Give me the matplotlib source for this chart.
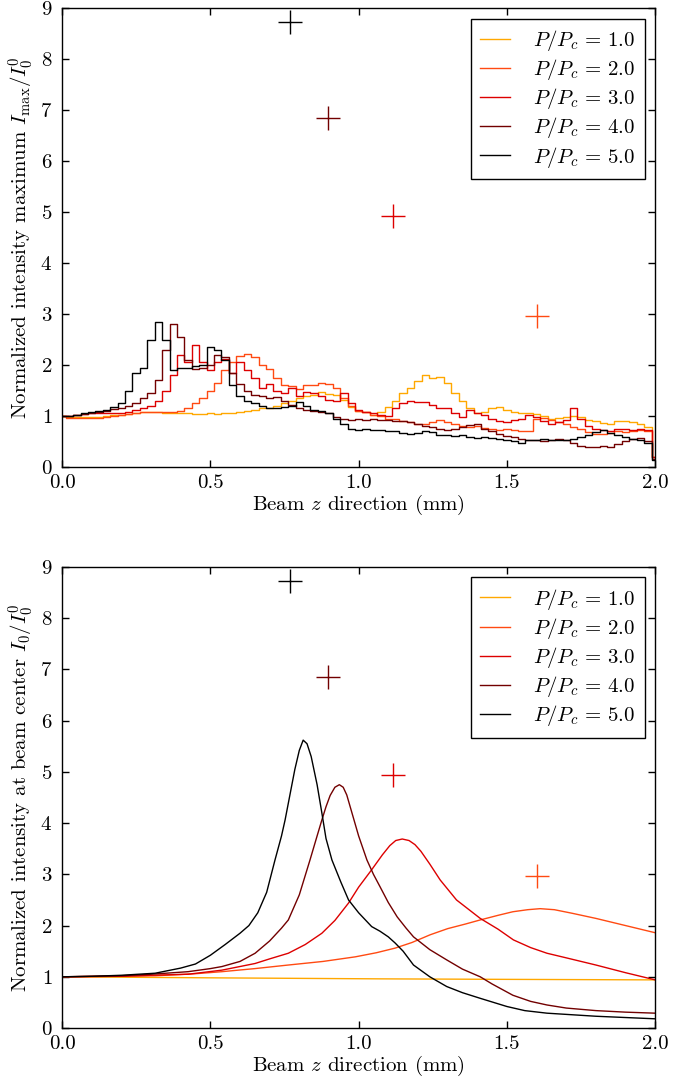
import numpy as np
import matplotlib
matplotlib.use('Agg')
import matplotlib.pyplot as plt

plt.rcParams['font.family'] = 'serif'
plt.rcParams['font.serif'] = ['cmr10']
plt.rcParams['mathtext.fontset'] = 'cm'
plt.rcParams['axes.formatter.use_mathtext'] = True
plt.rcParams['font.size'] = 15

# power ratios and colours
powers = [1.0, 2.0, 3.0, 4.0, 5.0]
colors = ['#ffa800', '#ff4a12', '#dd0000', '#720000', '#000000']

# collapse points (z in mm, predicted intensity), P/Pc = 2..5
coll_z = [1.60, 1.116, 0.897, 0.769]
coll_i = [2.97, 4.93, 6.85, 8.72]
coll_col = ['#ff4a12', '#dd0000', '#720000', '#000000']

# ---- top panel: intensity maximum, sampled every 0.025 mm ----
z_top = np.linspace(0.0, 2.0, 81)

imax1 = [1.00, 0.99, 0.98, 0.98, 0.98, 0.99, 1.00, 1.01, 1.02, 1.04,
         1.06, 1.07, 1.08, 1.07, 1.06, 1.06, 1.05, 1.05, 1.04, 1.04,
         1.05, 1.04, 1.05, 1.05, 1.08, 1.10, 1.12, 1.15, 1.16, 1.20,
         1.26, 1.30, 1.35, 1.40, 1.42, 1.47, 1.43, 1.42, 1.32, 1.18,
         1.10, 1.08, 1.02, 1.08, 1.18, 1.30, 1.45, 1.55, 1.68, 1.80,
         1.74, 1.76, 1.65, 1.45, 1.30, 1.15, 1.05, 1.08, 1.15, 1.18,
         1.12, 1.08, 1.05, 1.05, 1.03, 1.00, 0.95, 0.97, 0.98, 1.00,
         0.98, 0.93, 0.90, 0.87, 0.85, 0.90, 0.90, 0.88, 0.85, 0.78,
         0.20]

imax2 = [1.00, 0.97, 0.96, 0.97, 0.96, 0.97, 0.98, 1.00, 1.02, 1.04,
         1.06, 1.08, 1.08, 1.07, 1.08, 1.07, 1.10, 1.15, 1.25, 1.35,
         1.50, 1.65, 1.90, 2.05, 2.17, 2.22, 2.15, 2.00, 1.92, 1.75,
         1.60, 1.58, 1.52, 1.60, 1.60, 1.65, 1.62, 1.55, 1.35, 1.20,
         1.10, 1.08, 1.02, 1.00, 0.95, 0.95, 0.90, 0.88, 0.85, 0.85,
         0.88, 0.92, 0.88, 0.85, 0.80, 0.78, 0.80, 0.77, 0.75, 0.72,
         0.75, 0.72, 0.70, 0.70, 0.95, 0.97, 0.92, 0.88, 0.85, 0.78,
         0.75, 0.68, 0.65, 0.65, 0.66, 0.70, 0.68, 0.70, 0.72, 0.70,
         0.20]

imax3 = [1.00, 1.00, 1.02, 1.03, 1.05, 1.05, 1.06, 1.05, 1.05, 1.08,
         1.12, 1.15, 1.20, 1.30, 1.50, 1.80, 2.20, 2.05, 2.40, 2.05,
         1.90, 2.05, 2.12, 1.85, 2.05, 1.90, 1.75, 1.55, 1.62, 1.50,
         1.45, 1.55, 1.40, 1.48, 1.45, 1.40, 1.32, 1.30, 1.45, 1.25,
         1.12, 1.08, 1.05, 1.02, 1.00, 1.15, 1.25, 1.30, 1.28, 1.28,
         1.22, 1.15, 1.15, 1.05, 0.98, 1.12, 1.05, 1.02, 0.95, 0.90,
         0.88, 0.92, 0.95, 1.02, 0.98, 0.90, 0.85, 0.88, 0.92, 1.15,
         0.95, 0.80, 0.75, 0.72, 0.70, 0.75, 0.74, 0.72, 0.75, 0.72,
         0.20]

imax4 = [1.00, 1.00, 1.02, 1.03, 1.05, 1.07, 1.10, 1.13, 1.15, 1.20,
         1.25, 1.35, 1.45, 1.70, 2.30, 2.80, 2.55, 2.10, 1.92, 1.95,
         2.00, 2.20, 2.15, 1.85, 1.62, 1.50, 1.42, 1.40, 1.35, 1.38,
         1.30, 1.22, 1.15, 1.12, 1.10, 1.08, 1.05, 0.98, 0.95, 0.93,
         0.95, 0.92, 0.95, 0.93, 0.92, 0.90, 0.90, 0.88, 0.85, 0.80,
         0.78, 0.75, 0.72, 0.75, 0.78, 0.82, 0.85, 0.75, 0.70, 0.65,
         0.60, 0.58, 0.55, 0.52, 0.52, 0.50, 0.52, 0.55, 0.52, 0.48,
         0.42, 0.40, 0.40, 0.42, 0.40, 0.45, 0.50, 0.55, 0.56, 0.50,
         0.15]

imax5 = [1.00, 1.00, 1.02, 1.05, 1.07, 1.10, 1.12, 1.17, 1.25, 1.50,
         1.85, 1.95, 2.50, 2.85, 2.50, 1.90, 1.95, 1.95, 1.98, 2.00,
         2.35, 2.30, 2.10, 1.60, 1.40, 1.30, 1.25, 1.20, 1.15, 1.15,
         1.18, 1.20, 1.28, 1.20, 1.12, 1.10, 1.05, 0.95, 0.85, 0.75,
         0.73, 0.75, 0.72, 0.72, 0.70, 0.70, 0.66, 0.65, 0.66, 0.70,
         0.68, 0.63, 0.62, 0.60, 0.62, 0.58, 0.56, 0.58, 0.56, 0.55,
         0.52, 0.50, 0.48, 0.52, 0.52, 0.55, 0.53, 0.52, 0.52, 0.55,
         0.58, 0.62, 0.68, 0.72, 0.66, 0.62, 0.58, 0.55, 0.52, 0.48,
         0.13]

# ---- bottom panel: intensity at beam centre ----
zc1 = [0, 0.5, 1.07, 1.5, 2.0]
ic1 = [1.0, 0.98, 0.96, 0.95, 0.94]

zc2 = [0, 0.314, 0.45, 0.539, 0.65, 0.763, 0.88, 0.989, 1.06, 1.123, 1.18, 1.241, 1.3,
       1.36, 1.41, 1.47, 1.52, 1.57, 1.612, 1.66, 1.72, 1.8, 1.9, 2.0]
ic2 = [1.0, 1.02, 1.06, 1.1, 1.16, 1.23, 1.3, 1.39, 1.47, 1.56, 1.67, 1.82, 1.94,
       2.03, 2.11, 2.2, 2.27, 2.31, 2.33, 2.31, 2.24, 2.14, 2.0, 1.86]

zc3 = [0, 0.2, 0.3, 0.425, 0.539, 0.651, 0.7, 0.763, 0.82, 0.876, 0.92, 0.966, 1.0,
       1.044, 1.08, 1.105, 1.125, 1.147, 1.17, 1.19, 1.21, 1.24, 1.275, 1.33, 1.41,
       1.47, 1.522, 1.58, 1.635, 1.7, 1.8, 1.9, 2.0]
ic3 = [1.0, 1.01, 1.03, 1.05, 1.13, 1.26, 1.35, 1.46, 1.63, 1.85, 2.1, 2.44, 2.75,
       3.09, 3.38, 3.56, 3.66, 3.69, 3.66, 3.58, 3.45, 3.2, 2.89, 2.5, 2.14,
       1.93, 1.72, 1.57, 1.46, 1.37, 1.23, 1.08, 0.94]

zc4 = [0, 0.2, 0.3, 0.425, 0.5, 0.539, 0.6, 0.651, 0.7, 0.74, 0.763, 0.8, 0.836, 0.86,
       0.876, 0.89, 0.904, 0.92, 0.935, 0.948, 0.96, 0.975, 1.0, 1.028, 1.05, 1.072,
       1.1, 1.13, 1.16, 1.185, 1.24, 1.297, 1.35, 1.41, 1.45, 1.52, 1.58, 1.635, 1.7,
       1.8, 1.9, 2.0]
ic4 = [1.0, 1.02, 1.05, 1.1, 1.16, 1.2, 1.3, 1.46, 1.7, 1.95, 2.11, 2.6, 3.28, 3.75,
       4.06, 4.32, 4.54, 4.7, 4.75, 4.7, 4.55, 4.25, 3.75, 3.28, 3.0, 2.76,
       2.45, 2.17, 1.95, 1.78, 1.53, 1.33, 1.15, 1.0, 0.86, 0.64, 0.52, 0.45, 0.39,
       0.34, 0.31, 0.29]

zc5 = [0, 0.1, 0.2, 0.314, 0.4, 0.45, 0.5, 0.55, 0.6, 0.63, 0.66, 0.69, 0.718, 0.74,
       0.752, 0.77, 0.785, 0.8, 0.813, 0.826, 0.84, 0.86, 0.876, 0.89, 0.91, 0.94,
       0.966, 1.0, 1.044, 1.072, 1.1, 1.123, 1.15, 1.185, 1.24, 1.297, 1.35, 1.41,
       1.5, 1.56, 1.635, 1.8, 2.0]
ic5 = [1.0, 1.01, 1.03, 1.07, 1.17, 1.25, 1.42, 1.63, 1.85, 2.0, 2.25, 2.65, 3.28, 3.75,
       4.06, 4.6, 5.05, 5.42, 5.62, 5.55, 5.3, 4.75, 4.2, 3.7, 3.28, 2.85,
       2.5, 2.25, 1.98, 1.89, 1.78, 1.66, 1.5, 1.23, 1.0, 0.81, 0.69, 0.58,
       0.42, 0.34, 0.29, 0.23, 0.18]

top_i = [imax1, imax2, imax3, imax4, imax5]
bot_z = [zc1, zc2, zc3, zc4, zc5]
bot_i = [ic1, ic2, ic3, ic4, ic5]

fig = plt.figure(figsize=(6.93, 10.81), dpi=100)
ax1 = fig.add_axes([0.0895, 0.568, 0.856, 0.4245])
ax2 = fig.add_axes([0.0895, 0.049, 0.856, 0.4265])


def style(ax, ylabel):
    ax.set_xlim(0, 2.0)
    ax.set_ylim(0, 9)
    ax.set_xticks([0.0, 0.5, 1.0, 1.5, 2.0])
    ax.set_xticklabels(['0.0', '0.5', '1.0', '1.5', '2.0'])
    ax.set_yticks(range(10))
    ax.tick_params(direction='in', top=True, right=True, length=5, width=1)
    ax.tick_params(axis='x', pad=5)
    ax.tick_params(axis='y', pad=7)
    for s in ax.spines.values():
        s.set_linewidth(1.0)
    ax.set_xlabel('Beam $z$ direction (mm)', labelpad=1)
    ax.set_ylabel(ylabel, labelpad=3)
    ax.legend(loc='upper right', fancybox=False, edgecolor='black', framealpha=1,
              handlelength=1.45, handletextpad=1.1, labelspacing=0.2,
              borderpad=0.45, borderaxespad=0.5, fontsize=15)


for p, c, i in zip(powers, colors, top_i):
    ax1.plot(z_top, i, color=c, lw=1.0, drawstyle='steps-mid',
             label='$P/P_c\\,=\\,%.1f$' % p)
for z, i, c in zip(coll_z, coll_i, coll_col):
    ax1.plot(z, i, '+', color=c, markersize=17, mew=1.0)
style(ax1, 'Normalized intensity maximum $I_\\mathrm{max}/I_0^0$')

for p, c, z, i in zip(powers, colors, bot_z, bot_i):
    ax2.plot(z, i, color=c, lw=1.0, label='$P/P_c\\,=\\,%.1f$' % p)
for z, i, c in zip(coll_z, coll_i, coll_col):
    ax2.plot(z, i, '+', color=c, markersize=17, mew=1.0)
style(ax2, 'Normalized intensity at beam center $I_0/I_0^0$')

fig.savefig('out.png', dpi=100)
